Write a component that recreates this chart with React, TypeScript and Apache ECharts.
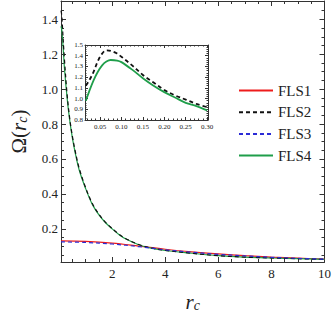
import React, { useEffect, useRef } from "react";
import * as echarts from "echarts";

// ---------- data ----------
const rcMain = [0.07, 0.1, 0.15, 0.2, 0.3, 0.4, 0.5, 0.6, 0.75, 1.0, 1.25, 1.5, 1.75, 2.0, 2.25, 2.5, 3.0, 3.5, 4.0, 5.0, 6.0, 7.0, 8.0, 9.0, 10.0];
const fls2Main = [1.45, 1.42, 1.29, 1.17, 0.97, 0.83, 0.73, 0.65, 0.55, 0.435, 0.345, 0.283, 0.237, 0.202, 0.17, 0.145, 0.11, 0.089, 0.077, 0.06, 0.046, 0.038, 0.033, 0.029, 0.025];
const fls4Main = [1.36, 1.34, 1.24, 1.12, 0.95, 0.82, 0.72, 0.64, 0.54, 0.43, 0.34, 0.28, 0.235, 0.2, 0.168, 0.143, 0.109, 0.088, 0.076, 0.06, 0.046, 0.038, 0.033, 0.029, 0.025];

const rcLow = [0.07, 1, 2, 3, 4, 5, 6, 7, 8, 9, 10];
const fls1Main = [0.131, 0.128, 0.118, 0.101, 0.083, 0.068, 0.056, 0.046, 0.038, 0.032, 0.027];
const fls3Main = [0.125, 0.122, 0.113, 0.098, 0.08, 0.066, 0.054, 0.045, 0.037, 0.031, 0.026];

const rcInset = [0.017, 0.025, 0.035, 0.045, 0.055, 0.065, 0.075, 0.09, 0.1, 0.125, 0.15, 0.175, 0.2, 0.225, 0.25, 0.275, 0.3];
const fls2Inset = [1.12, 1.17, 1.25, 1.35, 1.42, 1.45, 1.445, 1.42, 1.39, 1.31, 1.22, 1.15, 1.08, 1.03, 0.99, 0.95, 0.92];
const fls4Inset = [0.98, 1.07, 1.17, 1.25, 1.31, 1.345, 1.36, 1.355, 1.34, 1.27, 1.19, 1.12, 1.06, 1.01, 0.96, 0.93, 0.89];

const legendNames = ["FLS1", "FLS2", "FLS3", "FLS4"];

// tick values
const mainXMajor = [2, 4, 6, 8, 10];
const mainXMinor = [0.5, 1, 1.5, 2.5, 3, 3.5, 4.5, 5, 5.5, 6.5, 7, 7.5, 8.5, 9, 9.5];
const mainYMajor = [0.2, 0.4, 0.6, 0.8, 1.0, 1.2, 1.4];
const mainYMinor = [0.05, 0.1, 0.15, 0.25, 0.3, 0.35, 0.45, 0.5, 0.55, 0.65, 0.7, 0.75, 0.85, 0.9, 0.95, 1.05, 1.1, 1.15, 1.25, 1.3, 1.35, 1.45];
const insetXMajor = [0.05, 0.1, 0.15, 0.2, 0.25, 0.3];
const insetXMinor = [0.02, 0.03, 0.04, 0.06, 0.07, 0.08, 0.09, 0.11, 0.12, 0.13, 0.14, 0.16, 0.17, 0.18, 0.19, 0.21, 0.22, 0.23, 0.24, 0.26, 0.27, 0.28, 0.29];
const insetYMajor = [0.8, 0.9, 1.0, 1.1, 1.2, 1.3, 1.4, 1.5];
const insetYMinor = [0.82, 0.84, 0.86, 0.88, 0.92, 0.94, 0.96, 0.98, 1.02, 1.04, 1.06, 1.08, 1.12, 1.14, 1.16, 1.18, 1.22, 1.24, 1.26, 1.28, 1.32, 1.34, 1.36, 1.38, 1.42, 1.44, 1.46, 1.48];

// ---------- style ----------
const SERIF = "'Liberation Serif', 'Times New Roman', serif";
const FRAME = "#333";
const TEXT = "#222";
const RED = "#ee1c1c";
const BLACK = "#111";
const BLUE = "#2b2bd6";
const GREEN = "#1f9e4a";

const pairs = (xs: number[], ys: number[]) => xs.map((x, i) => [x, ys[i]]);

function makeAxes(
  dim: "x" | "y",
  gridIndex: number,
  min: number,
  max: number,
  major: number[],
  minor: number[],
  majLen: number,
  minLen: number,
  labelSize: number,
  labelMargin: number,
  fmt: (v: number) => string,
  extra: any = {}
) {
  const p1 = dim === "x" ? "bottom" : "left";
  const p2 = dim === "x" ? "top" : "right";
  const base = { type: "value", gridIndex, min, max, splitLine: { show: false } };
  const line = { show: true, lineStyle: { color: FRAME, width: 1 } };
  return [
    {
      ...base,
      position: p1,
      axisLine: line,
      axisTick: { show: true, inside: true, length: majLen, customValues: major, lineStyle: { color: FRAME } },
      axisLabel: { show: true, customValues: major, formatter: fmt, fontFamily: SERIF, fontSize: labelSize, color: TEXT, margin: labelMargin },
      ...extra,
    },
    {
      ...base,
      position: p1,
      axisLine: { show: false },
      axisTick: { show: true, inside: true, length: minLen, customValues: minor, lineStyle: { color: FRAME } },
      axisLabel: { show: false },
    },
    {
      ...base,
      position: p2,
      axisLine: line,
      axisTick: { show: true, inside: true, length: majLen, customValues: major, lineStyle: { color: FRAME } },
      axisLabel: { show: false },
    },
    {
      ...base,
      position: p2,
      axisLine: { show: false },
      axisTick: { show: true, inside: true, length: minLen, customValues: minor, lineStyle: { color: FRAME } },
      axisLabel: { show: false },
    },
  ];
}

const nameRich = {
  o: { fontFamily: SERIF, fontSize: 21, color: TEXT, lineHeight: 24, verticalAlign: "bottom" },
  r: { fontFamily: SERIF, fontSize: 21, fontStyle: "italic", color: TEXT, lineHeight: 24, verticalAlign: "bottom" },
  s: { fontFamily: SERIF, fontSize: 14, fontStyle: "italic", color: TEXT, lineHeight: 20, verticalAlign: "bottom" },
};

function buildOption() {
  const xAxes = [
    ...makeAxes("x", 0, 0.07, 10, mainXMajor, mainXMinor, 5, 3, 13, 5, (v) => String(Math.round(v)), {
      name: "{r|r}{s|c}",
      nameLocation: "middle",
      nameGap: 26,
      nameTextStyle: { rich: nameRich },
    }),
    ...makeAxes("x", 1, 0.015, 0.302, insetXMajor, insetXMinor, 3, 1.5, 7, 3, (v) => v.toFixed(2)),
  ];
  const yAxes = [
    ...makeAxes("y", 0, 0.01, 1.505, mainYMajor, mainYMinor, 5, 3, 13, 3, (v) => v.toFixed(1), {
      name: "{o|Ω(}{r|r}{s|c}{o|)}",
      nameLocation: "middle",
      nameGap: 32,
      nameTextStyle: { rich: nameRich },
    }),
    ...makeAxes("y", 1, 0.8, 1.5, insetYMajor, insetYMinor, 3, 1.5, 7, 2, (v) => v.toFixed(1)),
  ];

  const lineS = (name: string, data: number[][], color: string, width: number, dashed: boolean, xi: number, yi: number, z: number) => ({
    type: "line",
    name,
    data,
    xAxisIndex: xi,
    yAxisIndex: yi,
    smooth: 0.35,
    symbol: "none",
    showSymbol: false,
    clip: true,
    z,
    lineStyle: { color, width, type: dashed ? [4, 3] : "solid" },
    itemStyle: { color },
  });

  return {
    animation: false,
    backgroundColor: "#fff",
    grid: [
      { left: 49, top: 1, width: 278, height: 267, containLabel: false },
      { left: 85, top: 45, width: 123, height: 75, containLabel: false, backgroundColor: "#fff", show: true, borderWidth: 0 },
    ],
    xAxis: xAxes,
    yAxis: yAxes,
    legend: {
      orient: "vertical",
      left: 233,
      top: 78,
      itemWidth: 34,
      itemHeight: 14,
      itemGap: 6.7,
      data: legendNames,
      itemStyle: { opacity: 0, borderWidth: 0 },
      textStyle: { fontFamily: SERIF, fontSize: 15, color: TEXT },
      selectedMode: false,
    },
    series: [
      lineS("FLS1", pairs(rcLow, fls1Main), RED, 1.2, false, 0, 0, 2),
      lineS("FLS2", pairs(rcMain, fls2Main), BLACK, 1.2, true, 0, 0, 3),
      lineS("FLS3", pairs(rcLow, fls3Main), BLUE, 1.2, true, 0, 0, 4),
      lineS("FLS4", pairs(rcMain, fls4Main), GREEN, 1.2, false, 0, 0, 2),
      lineS("FLS2", pairs(rcInset, fls2Inset), BLACK, 1.8, true, 4, 4, 6),
      lineS("FLS4", pairs(rcInset, fls4Inset), GREEN, 1.8, false, 4, 4, 6),
    ],
  };
}

export default function App() {
  const ref = useRef<HTMLDivElement>(null);
  useEffect(() => {
    if (!ref.current) return;
    const chart = echarts.init(ref.current, null, { renderer: "svg" });
    chart.setOption(buildOption() as any);
    return () => chart.dispose();
  }, []);
  return <div ref={ref} style={{ position: "fixed", left: 0, top: 0, width: 334, height: 317 }} />;
}
